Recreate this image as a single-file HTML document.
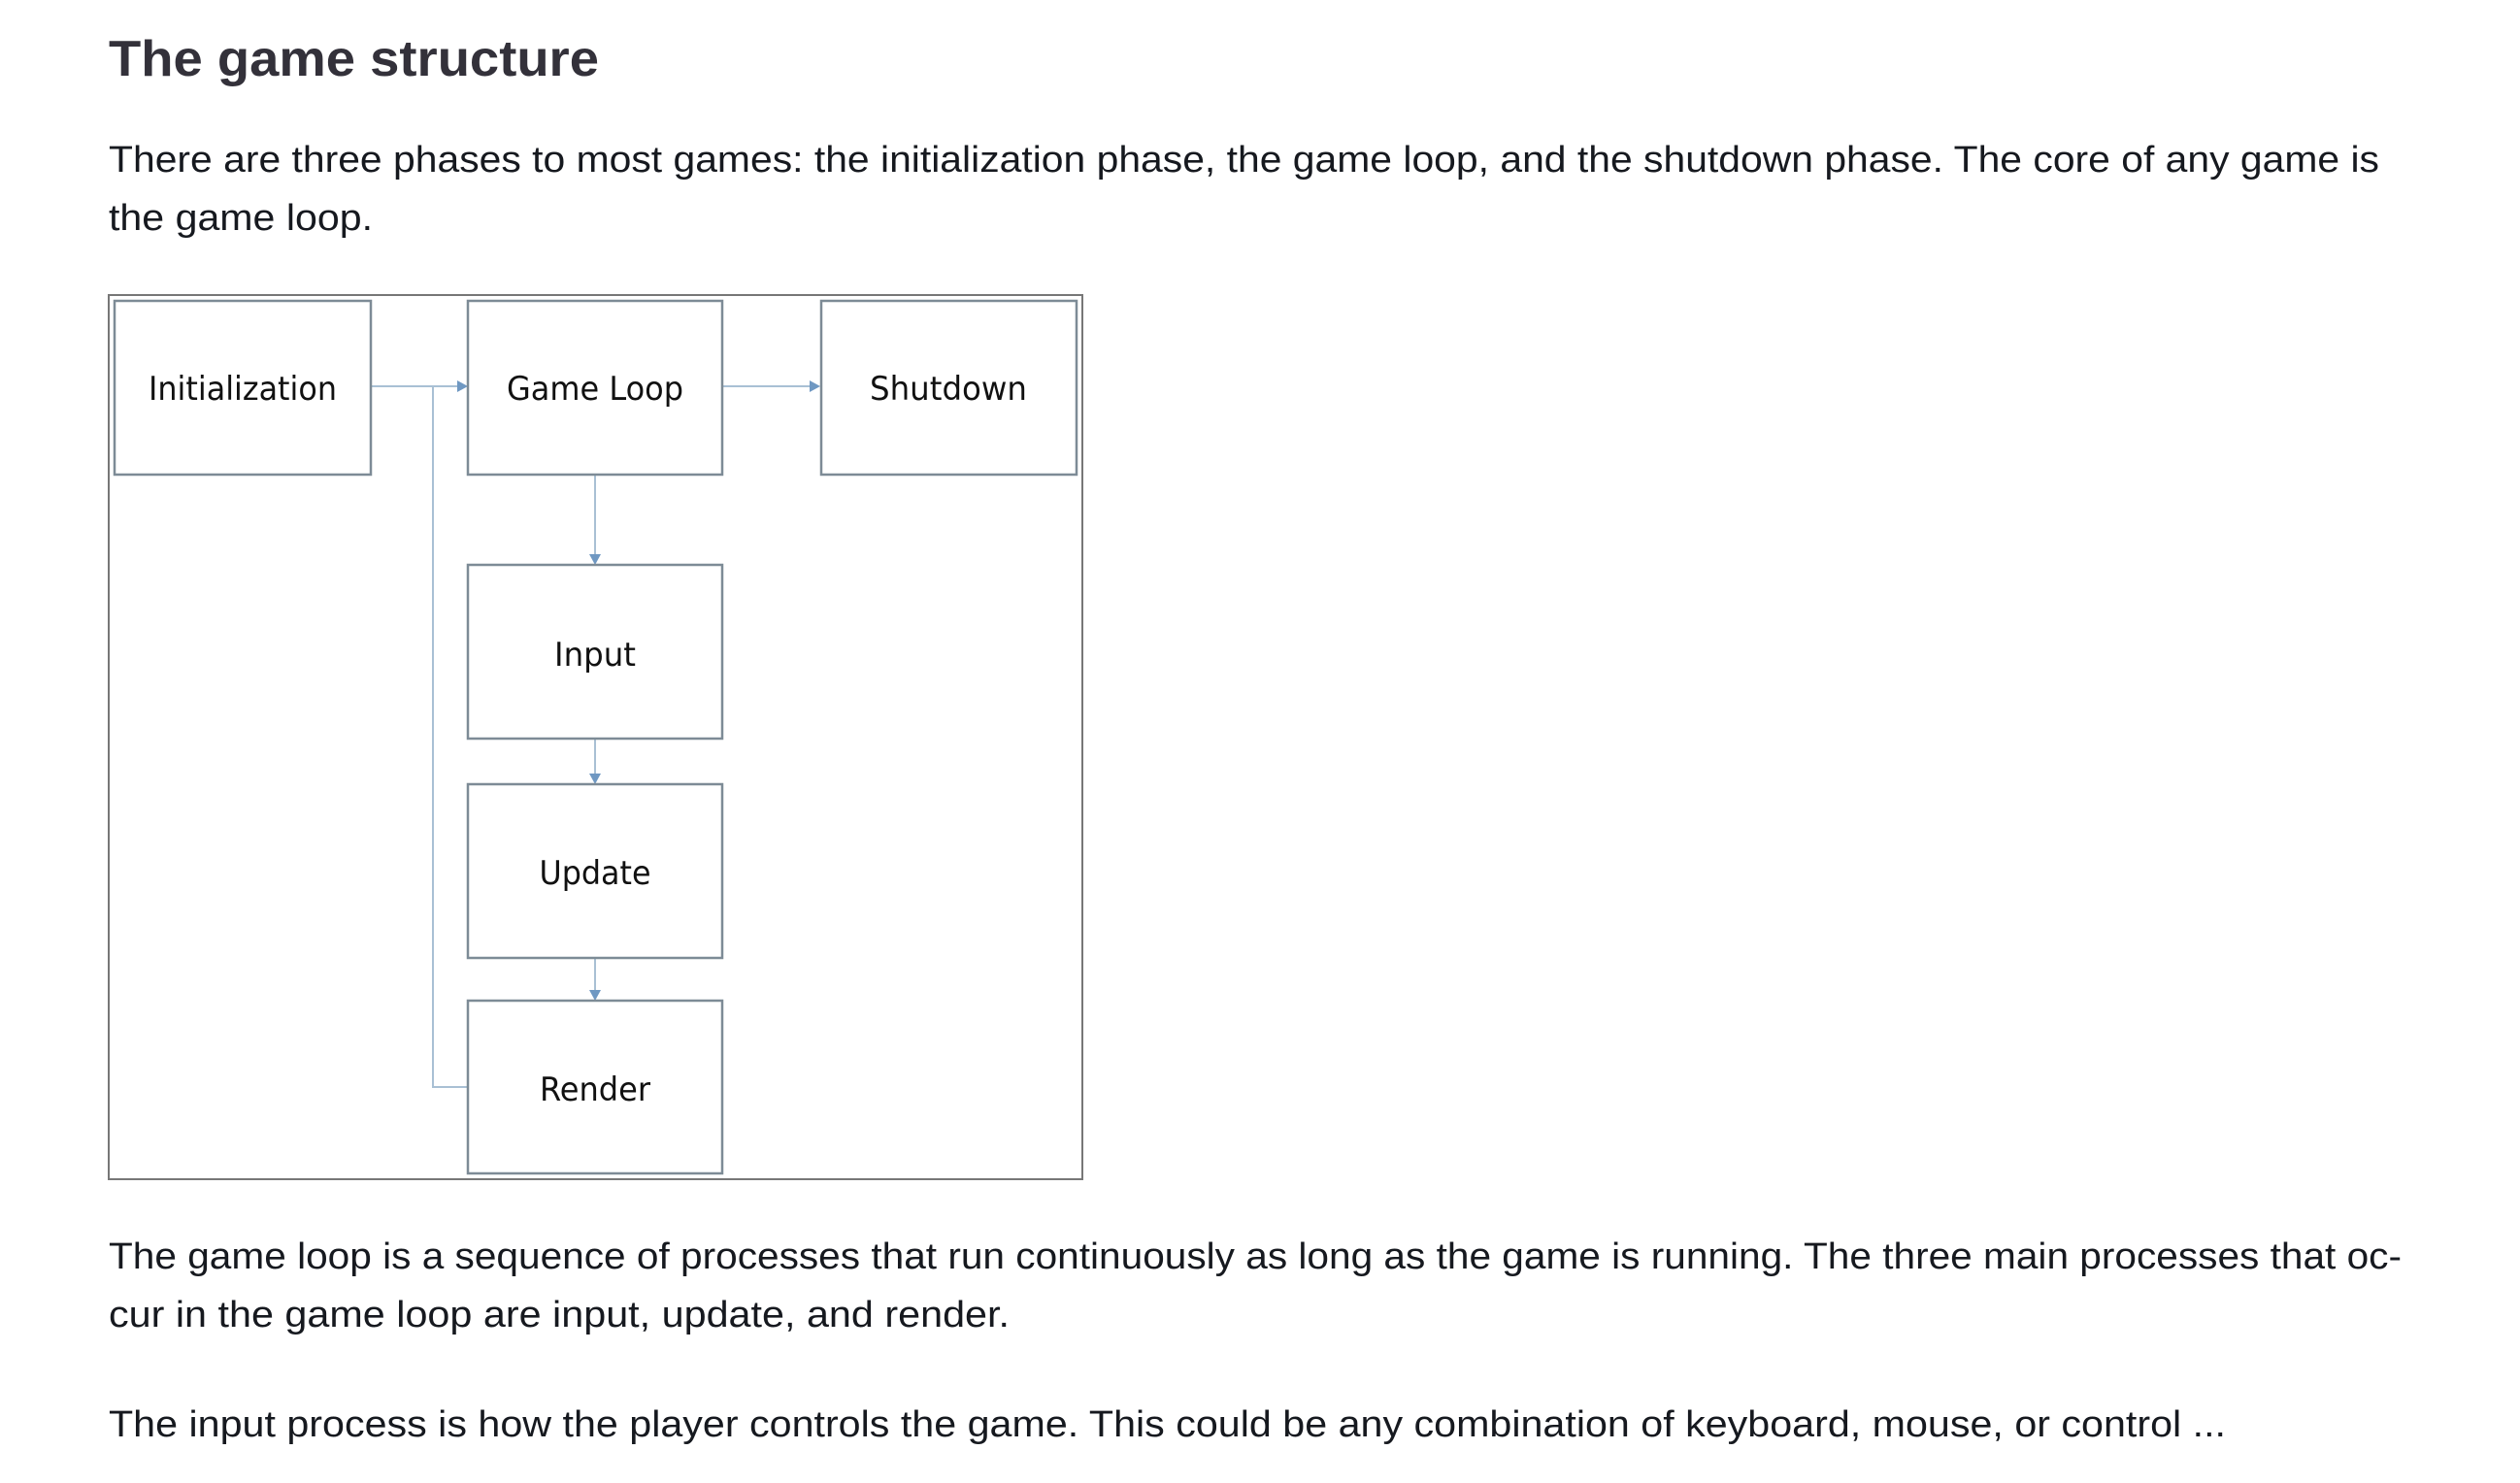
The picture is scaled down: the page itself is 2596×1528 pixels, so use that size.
<!DOCTYPE html>
<html><head><meta charset="utf-8"><style>html,body{margin:0;padding:0;background:#fff}svg{display:block}</style></head>
<body>
<svg width="2596" height="1528" viewBox="0 0 2596 1528" xmlns="http://www.w3.org/2000/svg">
<rect width="2596" height="1528" fill="#fff"/>
<g font-family="Liberation Sans, DejaVu Sans, sans-serif">
<text x="112" y="78" font-size="52" font-weight="bold" fill="#33313a" textLength="505" lengthAdjust="spacingAndGlyphs">The game structure</text>
<g font-size="38" fill="#16191f">
<text x="112" y="177" textLength="2339" lengthAdjust="spacingAndGlyphs">There are three phases to most games: the initialization phase, the game loop, and the shutdown phase. The core of any game is</text>
<text x="112" y="237" textLength="272" lengthAdjust="spacingAndGlyphs">the game loop.</text>
<text x="112" y="1307" textLength="2362" lengthAdjust="spacingAndGlyphs">The game loop is a sequence of processes that run continuously as long as the game is running. The three main processes that oc-</text>
<text x="112" y="1367" textLength="928" lengthAdjust="spacingAndGlyphs">cur in the game loop are input, update, and render.</text>
<text x="112" y="1480" textLength="2181" lengthAdjust="spacingAndGlyphs">The input process is how the player controls the game. This could be any combination of keyboard, mouse, or control ...</text>
</g>
</g>
<rect x="112" y="304" width="1003" height="911" fill="none" stroke="#777" stroke-width="2"/>
<g fill="none" stroke="#a9c0d4" stroke-width="2">
<path d="M382 398 H472"/>
<path d="M744 398 H835"/>
<path d="M446 398 V1120 H482"/>
<path d="M613 489 V572"/>
<path d="M613 761 V798"/>
<path d="M613 987 V1021"/>
</g>
<g fill="#6f98c2">
<path d="M482 398 L471 392 L471 404 Z"/>
<path d="M845 398 L834 392 L834 404 Z"/>
<path d="M613 582 L607 571 L619 571 Z"/>
<path d="M613 808 L607 797 L619 797 Z"/>
<path d="M613 1031 L607 1020 L619 1020 Z"/>
</g>
<g fill="#fff" stroke="#7d8b96" stroke-width="2.5">
<rect x="118" y="310" width="264" height="179"/>
<rect x="482" y="310" width="262" height="179"/>
<rect x="846" y="310" width="263" height="179"/>
<rect x="482" y="582" width="262" height="179"/>
<rect x="482" y="808" width="262" height="179"/>
<rect x="482" y="1031" width="262" height="178"/>
</g>
<g font-family="DejaVu Sans, Liberation Sans, sans-serif" font-size="34" fill="#111" text-anchor="middle">
<text x="250" y="412" textLength="194" lengthAdjust="spacingAndGlyphs">Initialization</text>
<text x="613" y="412" textLength="182" lengthAdjust="spacingAndGlyphs">Game Loop</text>
<text x="977" y="412" textLength="162" lengthAdjust="spacingAndGlyphs">Shutdown</text>
<text x="613" y="686" textLength="84" lengthAdjust="spacingAndGlyphs">Input</text>
<text x="613" y="911" textLength="115" lengthAdjust="spacingAndGlyphs">Update</text>
<text x="613" y="1134" textLength="114" lengthAdjust="spacingAndGlyphs">Render</text>
</g>
</svg>
</body></html>
